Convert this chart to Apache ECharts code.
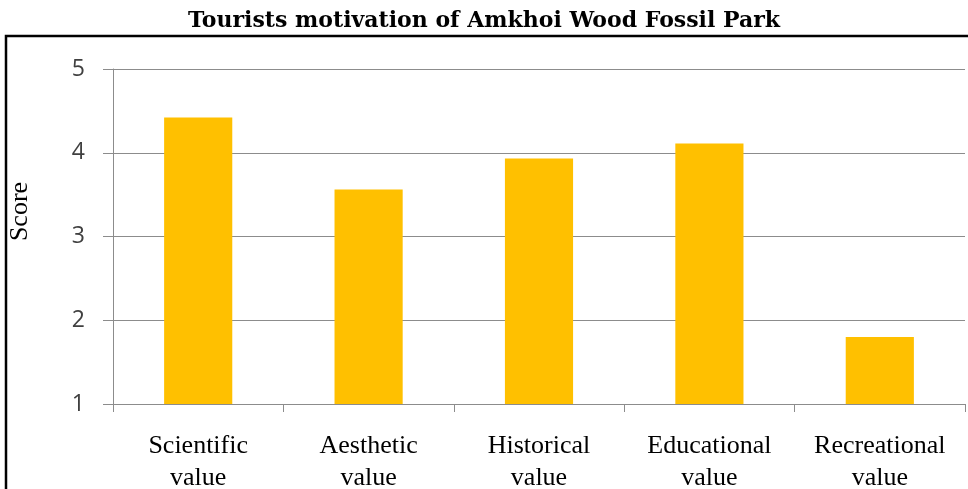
<!DOCTYPE html>
<html>
<head>
<meta charset="utf-8">
<script src="https://cdn.jsdelivr.net/npm/echarts@6/dist/echarts.min.js"></script>
<style>
  html, body { margin: 0; padding: 0; background: #fff; }
  #chart { width: 968px; height: 489px; }
</style>
</head>
<body>
<div id="chart"></div>
<script>
  // 数据
  var categories = ['Scientific\nvalue', 'Aesthetic\nvalue', 'Historical\nvalue', 'Educational\nvalue', 'Recreational\nvalue'];
  var scores = [4.42, 3.56, 3.93, 4.11, 1.80];
  var yTicks = [1, 2, 3, 4, 5];

  var chart = echarts.init(document.getElementById('chart'));
  chart.setOption({
    animation: false,
    title: {
      text: 'Tourists motivation of Amkhoi Wood Fossil Park',
      left: 'center',
      top: 5,
      textStyle: {
        fontFamily: 'DejaVu Serif',
        fontWeight: 'bold',
        fontSize: 22,
        color: '#000'
      }
    },
    graphic: [
      {
        type: 'rect',
        shape: { x: 6, y: 36, width: 1000, height: 500 },
        style: { fill: 'none', stroke: '#000', lineWidth: 2.5 },
        silent: true
      }
    ],
    grid: {
      left: 113,
      right: 3,
      top: 69,
      bottom: 85,
      outerBoundsMode: 'none'
    },
    xAxis: {
      type: 'category',
      data: categories,
      axisLine: { lineStyle: { color: '#8c8c8c', width: 1 } },
      axisTick: { show: true, length: 8, lineStyle: { color: '#8c8c8c' } },
      axisLabel: {
        interval: 0,
        margin: 26,
        fontFamily: 'Liberation Serif',
        fontSize: 26,
        lineHeight: 32,
        color: '#000'
      }
    },
    yAxis: {
      type: 'value',
      min: yTicks[0],
      max: yTicks[yTicks.length - 1],
      interval: 1,
      name: 'Score',
      nameLocation: 'middle',
      nameGap: 80,
      nameRotate: 90,
      nameTextStyle: {
        fontFamily: 'Liberation Serif',
        fontSize: 26,
        color: '#000',
        padding: [0, 0, 0, 50]
      },
      axisLine: { show: true, lineStyle: { color: '#8c8c8c' } },
      axisTick: { show: true, length: 10, lineStyle: { color: '#8c8c8c' } },
      splitLine: { lineStyle: { color: '#8c8c8c', width: 1 } },
      axisLabel: {
        margin: 28,
        fontFamily: 'Open Sans',
        fontSize: 23,
        color: '#404040'
      }
    },
    series: [
      {
        type: 'bar',
        data: scores,
        barWidth: '40%',
        itemStyle: { color: '#FFC000' }
      }
    ]
  });
</script>
</body>
</html>
